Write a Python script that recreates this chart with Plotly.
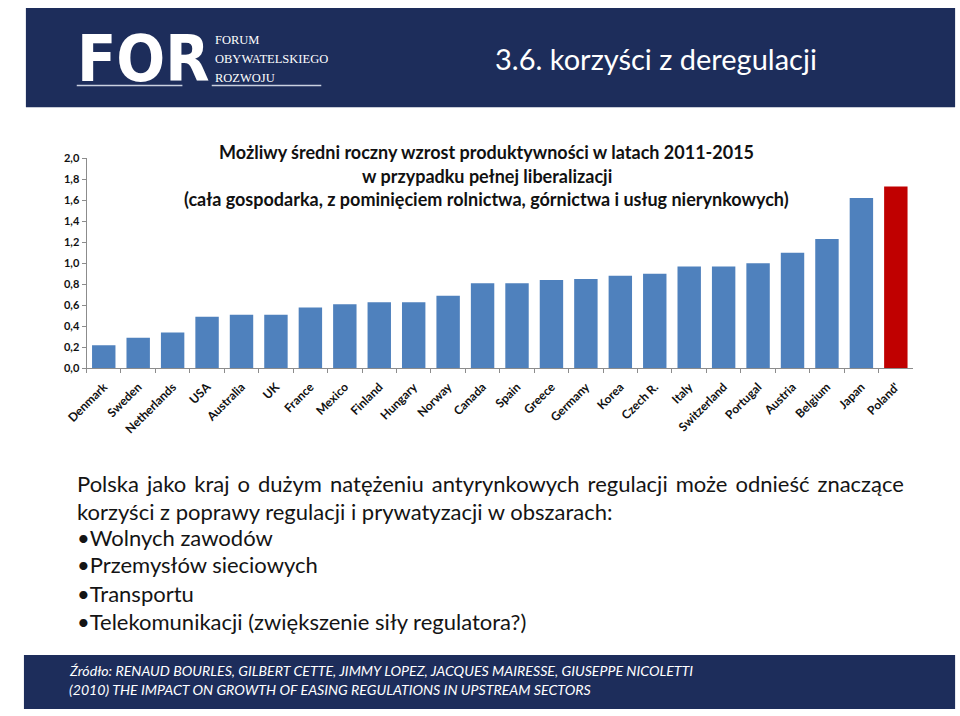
import plotly.graph_objects as go

# data
countries = ["Denmark", "Sweden", "Netherlands", "USA", "Australia", "UK", "France",
             "Mexico", "Finland", "Hungary", "Norway", "Canada", "Spain", "Greece",
             "Germany", "Korea", "Czech R.", "Italy", "Switzerland", "Portugal",
             "Austria", "Belgium", "Japan", "Poland'"]
growth = [0.22, 0.29, 0.34, 0.49, 0.51, 0.51, 0.58, 0.61, 0.63, 0.63, 0.69, 0.81,
          0.81, 0.84, 0.85, 0.88, 0.90, 0.97, 0.97, 1.00, 1.10, 1.23, 1.62, 1.73]
y_ticks = [0.0, 0.2, 0.4, 0.6, 0.8, 1.0, 1.2, 1.4, 1.6, 1.8, 2.0]

chart_title = [
    "Możliwy średni roczny wzrost produktywności w latach 2011-2015",
    "w przypadku pełnej liberalizacji",
    "(cała gospodarka, z pominięciem rolnictwa, górnictwa i usług nierynkowych)",
]
body_lines = [
    "Polska jako kraj o dużym natężeniu antyrynkowych regulacji może odnieść znaczące",
    "korzyści z poprawy regulacji i prywatyzacji w obszarach:",
    "•Wolnych zawodów",
    "•Przemysłów sieciowych",
    "•Transportu",
    "•Telekomunikacji (zwiększenie siły regulatora?)",
]
source_lines = [
    "Źródło: RENAUD BOURLES, GILBERT CETTE, JIMMY LOPEZ, JACQUES MAIRESSE, GIUSEPPE NICOLETTI",
    "(2010) THE IMPACT ON GROWTH OF EASING REGULATIONS IN UPSTREAM SECTORS",
]

W, H = 960, 716
NAVY = "#1d2d5b"
BLUE = "#4f81bd"
RED = "#c00000"


def px(x):
    return x / W


def py(y):
    return 1 - y / H


def note(x, y, text, font, anchor="left"):
    return dict(x=px(x), y=py(y), xref="paper", yref="paper", text=text,
                xanchor=anchor, yanchor="middle", showarrow=False, font=font)


colors = [RED if c.startswith("Poland") else BLUE for c in countries]

fig = go.Figure()
fig.add_trace(
    go.Bar(
        x=countries,
        y=growth,
        marker_color=colors,
        marker_line_width=0,
        hoverinfo="x+y",
    )
)

fig.update_xaxes(
    domain=[px(67), px(912)],
    showline=True,
    linecolor="#8c8c8c",
    ticks="outside",
    tickson="boundaries",
    ticklen=4,
    tickcolor="#8c8c8c",
    tickangle=-45,
    ticklabelstandoff=6,
    tickfont=dict(family="Lato", size=12, color="#111111", weight="bold"),
)
fig.update_yaxes(
    domain=[py(368), py(154)],
    range=[0, 2.0],
    tickvals=y_ticks,
    tickformat=".1f",
    showline=True,
    linecolor="#8c8c8c",
    ticks="outside",
    ticklen=4,
    tickcolor="#8c8c8c",
    showgrid=False,
    zeroline=False,
    tickfont=dict(family="Lato", size=11, color="#111111", weight="bold"),
)

# header and footer bands
fig.add_shape(type="rect", xref="paper", yref="paper", x0=px(5), x1=px(955),
              y0=py(102), y1=py(1), fillcolor=NAVY, line_width=0, layer="below")
fig.add_shape(type="rect", xref="paper", yref="paper", x0=px(3), x1=px(955),
              y0=py(715), y1=py(660), fillcolor=NAVY, line_width=0, layer="below")

# logo underline strokes
for x0, x1 in [(57, 165), (195, 307)]:
    fig.add_shape(type="line", xref="paper", yref="paper", x0=px(x0), x1=px(x1),
                  y0=py(80), y1=py(80), line=dict(color="#c9d0e0", width=1.5))

annotations = []
annotations.append(note(55, 53, "<b>FOR</b>",
                        dict(family="DejaVu Sans Condensed, Liberation Sans", size=64,
                             color="white")))
for i, t in enumerate(["FORUM", "OBYWATELSKIEGO", "ROZWOJU"]):
    annotations.append(note(196, 34 + 19 * i, t,
                            dict(family="Liberation Serif", size=12.5, color="white")))
annotations.append(note(483, 52, "3.6. korzyści z deregulacji",
                        dict(family="Lato", size=29, color="white")))

for i, t in enumerate(chart_title):
    annotations.append(note(476, 148 + 24 * i, t,
                            dict(family="Lato", size=18, color="#111111", weight="bold"),
                            anchor="center"))

# first body line is justified in the original -> wider word spacing
body_y = [485, 514, 540, 568, 597, 626]
for i, (t, yy) in enumerate(zip(body_lines, body_y)):
    if i == 0:
        t = f'<span style="word-spacing:2.4px">{t}</span>'
    annotations.append(note(55, yy, t, dict(family="Lato", size=22, color="#141414")))

for i, t in enumerate(source_lines):
    annotations.append(note(47, 676 + 19 * i, f"<i>{t}</i>",
                            dict(family="Lato", size=14.2, color="white")))

fig.update_layout(
    width=W,
    height=H,
    margin=dict(l=0, r=0, t=0, b=0),
    paper_bgcolor="white",
    plot_bgcolor="white",
    bargap=0.32,
    showlegend=False,
    separators=", ",
    annotations=annotations,
)

fig.write_html(
    "out.html",
    config={"displayModeBar": False},
    post_script="document.body.style.margin='0';document.body.style.overflow='hidden';",
)
